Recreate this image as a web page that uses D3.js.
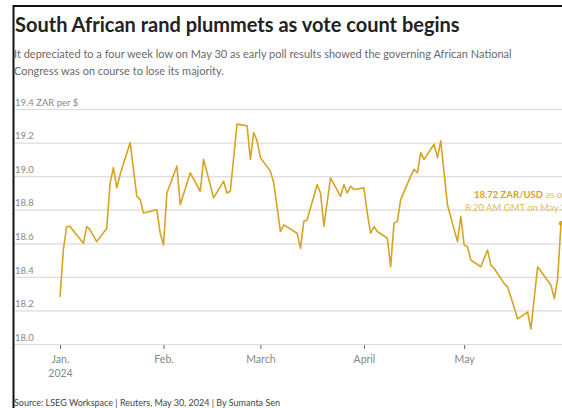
<!DOCTYPE html>
<html>
<head>
<meta charset="utf-8">
<script src="https://cdn.jsdelivr.net/npm/d3@7"></script>
<style>
  body { margin: 0; background: #fff; }
  svg { display: block; font-family: Lato, sans-serif; }
</style>
</head>
<body>
<svg width="562" height="408"></svg>
<script>
var dates = ['2024-01-01','2024-01-02','2024-01-03','2024-01-04','2024-01-08','2024-01-09','2024-01-10','2024-01-12',
  '2024-01-15','2024-01-16','2024-01-17','2024-01-18','2024-01-19','2024-01-22','2024-01-24','2024-01-25','2024-01-26',
  '2024-01-30','2024-01-31','2024-02-01','2024-02-02','2024-02-05','2024-02-06','2024-02-09','2024-02-12','2024-02-13',
  '2024-02-16','2024-02-19','2024-02-20','2024-02-21','2024-02-23','2024-02-26','2024-02-27','2024-02-28','2024-02-29',
  '2024-03-01','2024-03-04','2024-03-05','2024-03-07','2024-03-08','2024-03-12','2024-03-13','2024-03-14','2024-03-15',
  '2024-03-18','2024-03-19','2024-03-20','2024-03-22','2024-03-25','2024-03-26','2024-03-27','2024-03-28','2024-03-29',
  '2024-04-01','2024-04-02','2024-04-03','2024-04-04','2024-04-05','2024-04-08','2024-04-09','2024-04-10','2024-04-11',
  '2024-04-12','2024-04-15','2024-04-16','2024-04-17','2024-04-18','2024-04-19','2024-04-22','2024-04-23','2024-04-24',
  '2024-04-26','2024-04-29','2024-04-30','2024-05-01','2024-05-02','2024-05-03','2024-05-06','2024-05-08','2024-05-09',
  '2024-05-10','2024-05-13','2024-05-14','2024-05-15','2024-05-17','2024-05-20','2024-05-21','2024-05-23','2024-05-27',
  '2024-05-28','2024-05-29','2024-05-30'];
var rates = [18.28,18.56,18.70,18.70,18.60,18.70,18.68,18.61,
  18.69,18.96,19.05,18.93,19.01,19.20,18.88,18.86,18.78,
  18.80,18.66,18.59,18.90,19.06,18.83,19.02,18.91,19.10,
  18.87,18.97,18.90,18.91,19.31,19.30,19.10,19.26,19.21,
  19.11,19.03,18.96,18.67,18.71,18.66,18.57,18.73,18.74,
  18.95,18.90,18.70,18.99,18.88,18.95,18.90,18.94,18.92,
  18.93,18.78,18.66,18.70,18.67,18.63,18.46,18.72,18.73,
  18.86,19.00,19.04,19.02,19.14,19.10,19.19,19.11,19.21,
  18.83,18.61,18.76,18.59,18.58,18.50,18.46,18.56,18.47,
  18.45,18.36,18.34,18.28,18.15,18.19,18.09,18.46,18.35,
  18.27,18.39,18.72];

var yTicks = [18.0, 18.2, 18.4, 18.6, 18.8, 19.0, 19.2, 19.4];
var xTicks = ['2024-01-01','2024-02-01','2024-03-01','2024-04-01','2024-05-01'];
var xTickLabels = ['Jan.','Feb.','March','April','May'];

var parse = d3.timeParse('%Y-%m-%d');
var data = dates.map(function(d, i) { return { date: parse(d), value: rates[i] }; });

var gold = '#d5a422';
var lightGold = '#e3bd57';
var svg = d3.select('svg');

var x = d3.scaleTime()
  .domain([parse('2024-01-01'), parse('2024-05-30')])
  .range([60, 561]);
var y = d3.scaleLinear()
  .domain([18, 19.4])
  .range([344, 109]);

// frame lines from the screenshot crop
svg.append('line').attr('x1', 13.5).attr('x2', 13.5).attr('y1', 5).attr('y2', 408)
  .attr('stroke', '#111').attr('stroke-width', 2);
svg.append('line').attr('x1', 13).attr('x2', 562).attr('y1', 6).attr('y2', 6)
  .attr('stroke', '#111').attr('stroke-width', 2);

// titles
svg.append('text').attr('x', 15).attr('y', 32)
  .attr('font-size', '20px').attr('font-weight', 700).attr('fill', '#222')
  .text('South African rand plummets as vote count begins');
var sub = svg.append('text').attr('x', 14).attr('font-size', '11px').attr('fill', '#6a6a6a');
sub.append('tspan').attr('x', 14).attr('y', 58)
  .text('It depreciated to a four week low on May 30 as early poll results showed the governing African National');
sub.append('tspan').attr('x', 14).attr('y', 75)
  .text('Congress was on course to lose its majority.');

// y grid + labels
var yAxis = d3.axisLeft(y).tickValues(yTicks).tickSize(-(562 - 15))
  .tickFormat(function(d) { return d === 19.4 ? '19.4 ZAR per $' : d3.format('.1f')(d); });
var gy = svg.append('g').attr('transform', 'translate(15,0)').call(yAxis);
gy.select('.domain').remove();
gy.selectAll('.tick line').attr('stroke', '#dcdcdc').attr('stroke-width', 1.2);
gy.selectAll('.tick text')
  .attr('x', 0).attr('dy', '-0.4em')
  .attr('text-anchor', 'start')
  .attr('font-family', 'Lato, sans-serif')
  .attr('font-size', '9.5px').attr('fill', '#888');

// x axis
var xAxis = d3.axisBottom(x).tickValues(xTicks.map(parse)).tickSize(4)
  .tickFormat(function(d, i) { return xTickLabels[i]; });
var gx = svg.append('g').attr('transform', 'translate(0,345)').call(xAxis);
gx.select('.domain').remove();
gx.selectAll('.tick line').attr('stroke', '#666');
gx.selectAll('.tick text')
  .attr('y', 11)
  .attr('font-family', 'Lato, sans-serif')
  .attr('font-size', '10.5px').attr('fill', '#888');
gx.select('.tick text').append('tspan').attr('x', 0).attr('dy', '1.25em').text('2024');

// line
var line = d3.line()
  .x(function(d) { return x(d.date); })
  .y(function(d) { return y(d.value); });
svg.append('path').datum(data)
  .attr('d', line)
  .attr('fill', 'none')
  .attr('stroke', gold)
  .attr('stroke-width', 1.6)
  .attr('stroke-linejoin', 'round');

var last = data[data.length - 1];
svg.append('circle')
  .attr('cx', x(last.date)).attr('cy', y(last.value)).attr('r', 2.2)
  .attr('fill', gold);

// annotation (cut by the right edge, as in the source screenshot)
var ann = svg.append('text').attr('font-size', '9.5px').attr('fill', gold);
var l1 = ann.append('tspan').attr('x', 474).attr('y', 198);
l1.append('tspan').attr('font-weight', 700).text(d3.format('.2f')(last.value) + ' ZAR/USD');
l1.append('tspan').attr('fill', lightGold).text(' as of');
ann.append('tspan').attr('x', 465).attr('y', 211).attr('fill', lightGold)
  .text('8:20 AM GMT on May 30');

// source
svg.append('text').attr('x', 14).attr('y', 406)
  .attr('font-size', '9px').attr('fill', '#444')
  .text('Source: LSEG Workspace | Reuters, May 30, 2024 | By Sumanta Sen');
</script>
</body>
</html>
